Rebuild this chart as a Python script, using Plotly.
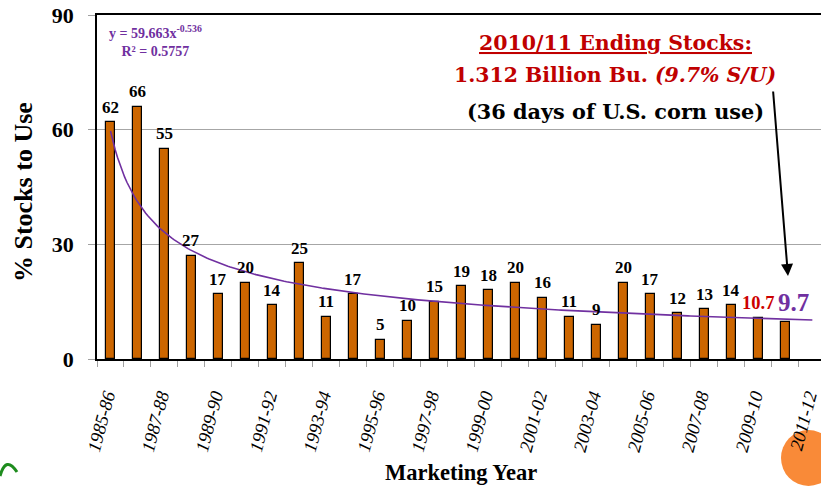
import numpy as np
import plotly.graph_objects as go

# ---------------- data ----------------
years = ["1985-86", "1986-87", "1987-88", "1988-89", "1989-90", "1990-91", "1991-92",
         "1992-93", "1993-94", "1994-95", "1995-96", "1996-97", "1997-98", "1998-99",
         "1999-00", "2000-01", "2001-02", "2002-03", "2003-04", "2004-05", "2005-06",
         "2006-07", "2007-08", "2008-09", "2009-10", "2010-11"]
stocks_to_use = [62, 66, 55, 27, 17, 20, 14, 25, 11, 17, 5, 10, 15, 19, 18, 20, 16, 11, 9,
                 20, 17, 12, 13, 14, 10.7, 9.7]
value_labels = ["62", "66", "55", "27", "17", "20", "14", "25", "11", "17", "5", "10", "15",
                "19", "18", "20", "16", "11", "9", "20", "17", "12", "13", "14", "10.7", "9.7"]
tick_labels = ["1985-86", "1987-88", "1989-90", "1991-92", "1993-94", "1995-96", "1997-98",
               "1999-00", "2001-02", "2003-04", "2005-06", "2007-08", "2009-10", "2011-12"]
y_ticks = [0, 30, 60, 90]
# power trend shown on the chart: y = 59.663 x^-0.536
trend_coef = 59.663
trend_exp = -0.536

# ---------------- layout helpers ----------------
W, H = 821, 487
L, R, T, B = 97, 0, 15, 128
PW, PH = W - L - R, H - T - B


def px(x):
    return (x - L) / PW


def py(y):
    return (H - B - y) / PH


n = len(stocks_to_use)
xs = list(range(n))
# rotated labels: nudge so the end of each label sits at its bar
tick_pos = [2 * i - 0.15 for i in range(len(tick_labels))]

serif = "Liberation Serif"
fig = go.Figure()

fig.add_trace(go.Bar(
    x=xs, y=stocks_to_use, width=0.33,
    marker=dict(color="#CC6600", line=dict(color="#000000", width=1.2)),
    showlegend=False, hoverinfo="skip",
))

# trend line (x index starts at 1 for the first marketing year)
tx = np.linspace(0, n, 300)
ty = trend_coef * (tx + 1) ** trend_exp
fig.add_trace(go.Scatter(
    x=tx, y=ty, mode="lines", line=dict(color="#7030A0", width=1.6),
    showlegend=False, hoverinfo="skip",
))

annotations = []
for i, (v, lab) in enumerate(zip(stocks_to_use, value_labels)):
    size, color, xs_, ys_ = 17, "#000000", 0, 15
    if i == n - 2:
        size, color = 18.5, "#CC0000"
    if i == n - 1:
        size, color, xs_, ys_ = 25, "#7030A0", 8, 19
    annotations.append(dict(
        x=i, y=v, xref="x", yref="y", text=f"<b>{lab}</b>", showarrow=False,
        yanchor="middle", xanchor="center", yshift=ys_, xshift=xs_,
        font=dict(family=serif, size=size, color=color),
    ))


def paper_text(x, y, text, font, **kw):
    d = dict(x=px(x), y=py(y), xref="paper", yref="paper", showarrow=False,
             xanchor="center", yanchor="middle", text=text, font=font)
    d.update(kw)
    return d


# equation
annotations.append(paper_text(
    155, 41, "<b>y = 59.663x<sup>-0.536</sup><br>R² = 0.5757</b>",
    dict(family=serif, size=14, color="#7030A0"), align="center"))

# callout text
annotations.append(paper_text(
    615, 43, "<b><u>2010/11 Ending Stocks:</u></b>",
    dict(family="DejaVu Serif", size=20.5, color="#C00000")))
annotations.append(paper_text(
    615, 75, "<b>1.312 Billion Bu. <i>(9.7% S/U)</i></b>",
    dict(family="DejaVu Serif", size=20.4, color="#C00000")))
annotations.append(paper_text(
    615, 111, "<b>(36 days of U.S. corn use)</b>",
    dict(family="DejaVu Serif", size=20.8, color="#000000")))
# arrow
annotations.append(dict(
    x=px(788), y=py(276), ax=773 - 788, ay=90 - 276,
    xref="paper", yref="paper", axref="pixel", ayref="pixel",
    text="", showarrow=True, arrowhead=2, arrowsize=1.2, arrowwidth=2,
    arrowcolor="#000000",
))

# axis titles
annotations.append(paper_text(
    23, 192, "<b>% Stocks to Use</b>", dict(family=serif, size=26, color="#000000"),
    textangle=-90))
annotations.append(paper_text(
    461, 472, "<b>Marketing Year</b>", dict(family=serif, size=22.5, color="#000000")))

shapes = [
    # decorative orange circle (bottom right)
    dict(type="circle", xref="paper", yref="paper",
         x0=px(781), x1=px(836), y0=py(430), y1=py(486),
         fillcolor="#F98A38", line=dict(width=0), layer="below"),
    # decorative green swirl (bottom left)
    dict(type="path", xref="paper", yref="paper",
         path=f"M {px(0)},{py(476)} Q {px(6)},{py(455)} {px(17)},{py(472)}",
         line=dict(color="#1E8C1E", width=3)),
]

fig.update_layout(
    width=W, height=H,
    margin=dict(l=L, r=R, t=T, b=B, pad=0, autoexpand=False),
    paper_bgcolor="#FFFFFF", plot_bgcolor="#FFFFFF",
    annotations=annotations, shapes=shapes,
    bargap=0,
    xaxis=dict(
        range=[-0.5, n + 0.32], tickmode="array", tickvals=tick_pos, ticktext=tick_labels,
        tickangle=-75, ticks="", ticklabelstandoff=17, automargin=False,
        ticklabeloverflow="allow",
        tickfont=dict(family=serif, size=18.5, color="#000000", style="italic"),
        showline=True, linecolor="#000000", linewidth=2, mirror=True,
        showgrid=False, zeroline=False,
        minor=dict(tickmode="linear", tick0=-0.5, dtick=1, ticks="outside", ticklen=6,
                   tickcolor="#A0A0A0", tickwidth=1, showgrid=False),
    ),
    yaxis=dict(
        range=[0, 90], tickmode="array", tickvals=y_ticks, automargin=False,
        ticks="outside", ticklen=7, tickcolor="#A0A0A0", tickwidth=1,
        ticklabelstandoff=10,
        tickfont=dict(family=serif, size=22, color="#000000", weight="bold"),
        showline=True, linecolor="#000000", linewidth=1.5,
        showgrid=True, gridcolor="#A6A6A6", gridwidth=1, zeroline=False,
    ),
)

fig.write_html(
    "out.html",
    config={"displayModeBar": False},
    post_script="document.body.style.margin='0px';document.body.style.overflow='hidden';",
)
